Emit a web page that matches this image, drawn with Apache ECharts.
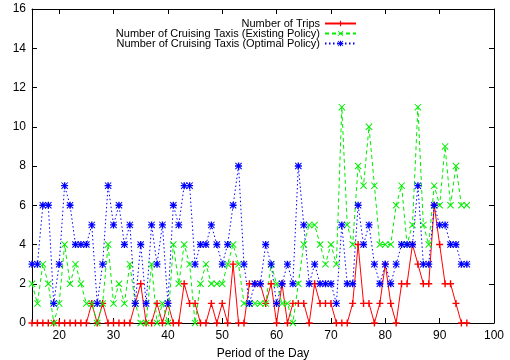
<!DOCTYPE html>
<html>
<head>
<meta charset="utf-8">
<script src="https://cdn.jsdelivr.net/npm/echarts@6/dist/echarts.min.js"></script>
<style>
  html, body { margin: 0; padding: 0; background: #fff; }
  #chart { width: 510px; height: 360px; }
</style>
</head>
<body>
<div id="chart"></div>
<script>
// periods 15..95
const periods = [];
for (let p = 15; p <= 95; p++) periods.push(p);

const trips = [0,0,0,0,0,0,0,0,0,0,0,1,0,1,0,0,0,0,0,1,2,0,0,1,0,1,0,0,2,1,
  1,0,0,1,0,1,0,3,0,0,2,2,2,1,2,0,2,0,1,1,1,0,2,1,1,1,0,0,0,1,
  4,1,1,0,1,3,1,0,2,2,4,3,2,2,6,4,2,2,1,0,0];
const existingPolicy = [2,1,3,2,0,1,4,2,3,2,1,1,0,1,4,1,2,1,3,1,0,0,3,0,1,0,4,2,4,3,
  0,2,3,2,2,2,3,4,3,1,1,1,1,1,3,2,1,1,0,2,4,5,5,4,3,4,3,11,5,4,
  8,7,10,7,4,4,4,6,7,4,5,11,5,4,7,6,9,6,8,6,6];
const optimalPolicy = [3,3,6,6,1,3,7,6,4,4,4,5,1,3,7,5,6,4,5,1,4,1,5,3,5,1,6,5,7,7,
  3,4,4,5,4,3,4,6,8,3,1,2,2,4,3,1,2,3,2,8,5,2,3,2,2,2,1,5,2,2,
  6,4,5,3,2,3,2,3,4,4,4,7,3,3,6,5,5,4,4,3,3];

const xTicks = [20, 30, 40, 50, 60, 70, 80, 90, 100];
const seriesNames = [
  "Number of Trips",
  "Number of Cruising Taxis (Existing Policy)",
  "Number of Cruising Taxis (Optimal Policy)",
];

const plusSym = "path://M4,0h2v10h-2z M0,4h10v2h-10z";
const crossSym = "path://M0,1L1,0L10,9L9,10Z M9,0L10,1L1,10L0,9Z";
const starSym = "path://M4,0h2v10h-2z M0,4h10v2h-10z M0,1L1,0L10,9L9,10Z M9,0L10,1L1,10L0,9Z";

const pairs = (ys) => periods.map((p, i) => [p, ys[i]]);
const font = "Liberation Sans, Arial, Helvetica, sans-serif";

const chart = echarts.init(document.getElementById("chart"), null, { renderer: "canvas" });

const frameAxis = {
  type: "value",
  axisLine: { show: true, onZero: false, lineStyle: { color: "#000", width: 1 } },
  axisTick: { show: true, inside: true, length: 5, lineStyle: { color: "#000" } },
  splitLine: { show: false },
};

chart.setOption({
  animation: false,
  backgroundColor: "#fff",
  textStyle: { fontFamily: font },
  grid: { left: 32, right: 16, top: 9, bottom: 37, outerBoundsMode: "none", containLabel: false },
  legend: {
    orient: "vertical",
    right: 148,
    top: 13,
    align: "right",
    itemWidth: 31,
    itemHeight: 7,
    itemGap: -1,
    textStyle: { fontSize: 11, color: "#000", lineHeight: 11, fontFamily: font },
    data: seriesNames,
  },
  xAxis: [
    {
      ...frameAxis,
      min: 15,
      max: 100,
      position: "bottom",
      axisTick: { ...frameAxis.axisTick, customValues: xTicks },
      axisLabel: { customValues: xTicks, color: "#000", fontSize: 12, margin: 7 },
      name: "Period of the Day",
      nameLocation: "middle",
      nameGap: 25,
      nameTextStyle: { fontSize: 12, color: "#000" },
    },
    {
      ...frameAxis,
      min: 15,
      max: 100,
      position: "top",
      axisTick: { ...frameAxis.axisTick, customValues: xTicks },
      axisLabel: { show: false },
    },
  ],
  yAxis: [
    {
      ...frameAxis,
      min: 0,
      max: 16,
      interval: 2,
      position: "left",
      axisLabel: { color: "#000", fontSize: 12, margin: 6 },
    },
    {
      ...frameAxis,
      min: 0,
      max: 16,
      interval: 2,
      position: "right",
      axisLabel: { show: false },
    },
  ],
  series: [
    {
      name: seriesNames[0],
      type: "line",
      data: pairs(trips),
      symbol: plusSym,
      symbolSize: 7,
      showAllSymbol: true,
      lineStyle: { color: "#ff0000", width: 1 },
      itemStyle: { color: "#ff0000" },
    },
    {
      name: seriesNames[1],
      type: "line",
      data: pairs(existingPolicy),
      symbol: crossSym,
      symbolSize: 7,
      showAllSymbol: true,
      lineStyle: { color: "#00ee00", width: 1, type: [4, 3] },
      itemStyle: { color: "#00ee00" },
    },
    {
      name: seriesNames[2],
      type: "line",
      data: pairs(optimalPolicy),
      symbol: starSym,
      symbolSize: 7,
      showAllSymbol: true,
      lineStyle: { color: "#0000ff", width: 1, type: [1.5, 2.5] },
      itemStyle: { color: "#0000ff" },
    },
  ],
});
</script>
</body>
</html>
